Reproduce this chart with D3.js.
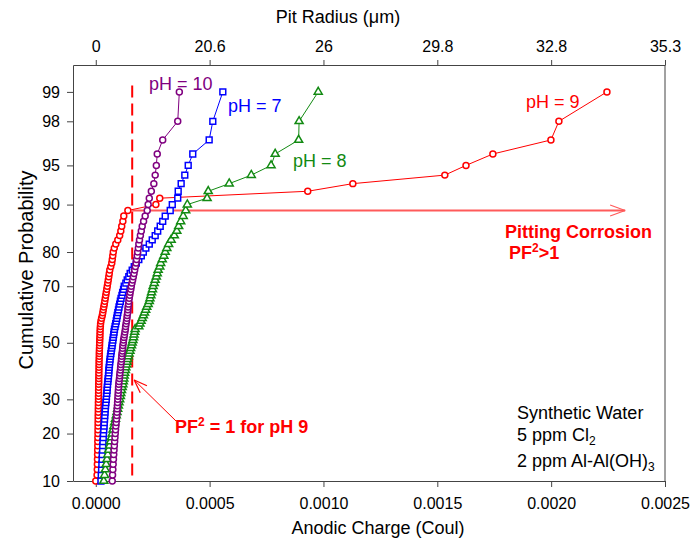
<!DOCTYPE html>
<html>
<head>
<meta charset="utf-8">
<script src="https://cdn.jsdelivr.net/npm/d3@7"></script>
<style>
  body { margin: 0; background: #fff; }
  text { font-family: Arial, "Liberation Sans", sans-serif; }
</style>
</head>
<body>
<svg id="chart" width="691" height="544"></svg>
<script>

// Cumulative probability of each ranked pit (same for every series)
const PROB = [
  0.10, 0.11, 0.12, 0.13, 0.14, 0.15, 0.16, 0.17, 0.18, 0.19,
  0.20, 0.21, 0.22, 0.23, 0.24, 0.25, 0.26, 0.27, 0.28, 0.29,
  0.30, 0.31, 0.32, 0.33, 0.34, 0.35, 0.36, 0.37, 0.38, 0.39,
  0.40, 0.41, 0.42, 0.43, 0.44, 0.45, 0.46, 0.47, 0.48, 0.49,
  0.50, 0.51, 0.52, 0.53, 0.54, 0.55, 0.56, 0.57, 0.58, 0.59,
  0.60, 0.61, 0.62, 0.63, 0.64, 0.65, 0.66, 0.67, 0.68, 0.69,
  0.70, 0.71, 0.72, 0.73, 0.74, 0.75, 0.76, 0.77, 0.78, 0.79,
  0.80, 0.81, 0.82, 0.83, 0.84, 0.85, 0.86, 0.87, 0.88, 0.89,
  0.90, 0.91, 0.92, 0.93, 0.94, 0.95, 0.96, 0.97, 0.98, 0.99
];

// Anodic charge of each pit, in micro-coulombs
const PH9 = [
  0, 5.7, 6.6, 7.0, 7.5, 7.9, 8.3, 8.8, 8.8, 9.2,
  9.7, 9.7, 10.1, 10.1, 10.5, 10.5, 11.0, 11.0, 11.4, 11.4,
  11.9, 11.9, 12.3, 12.3, 12.7, 12.7, 13.2, 13.2, 13.6, 13.6,
  14.1, 14.1, 14.5, 14.5, 14.9, 15.4, 15.4, 15.8, 16.3, 16.7,
  17.1, 17.6, 18.0, 18.5, 18.9, 19.3, 20.2, 21.1, 22.8, 25.5,
  28.6, 30.8, 33.0, 35.2, 37.4, 39.5, 41.7, 43.9, 46.1, 48.3,
  50.5, 52.7, 54.9, 57.1, 59.3, 61.5, 65.9, 70.3, 72.5, 74.7,
  76.9, 81.3, 87.9, 96.7, 105, 110, 114, 119, 123, 141,
  264, 281, 931, 1129, 1533, 1626, 1744, 1999, 2034, 2245
];

const PH7 = [
  22.8, 24.1, 25.5, 26.8, 27.7, 28.5, 29.9, 30.7, 31.6, 32.9,
  33.8, 35.1, 36.4, 37.3, 38.6, 39.5, 40.8, 41.7, 43.0, 44.4,
  46.1, 47.0, 48.3, 49.6, 50.5, 51.8, 53.1, 54.4, 55.8, 57.1,
  57.5, 58.8, 60.1, 61.5, 62.8, 64.5, 66.3, 68.0, 69.8, 71.6,
  73.3, 75.1, 76.8, 78.6, 80.3, 82.1, 84.7, 87.4, 90.0, 92.2,
  94.4, 97.0, 99.7, 102, 105, 108, 111, 115, 118, 122,
  125, 132, 138, 145, 151, 160, 169, 178, 189, 200,
  209, 220, 235, 248, 261, 272, 283, 294, 305, 327,
  336, 360, 362, 375, 391, 406, 426, 498, 514, 558
];

const PH8 = [
  35.1, 38.6, 42.1, 45.7, 49.2, 52.7, 56.6, 60.6, 64.5, 68.5,
  72.4, 75.9, 79.5, 83.0, 86.5, 90.0, 93.1, 96.1, 99.2, 102,
  105, 108, 110, 113, 116, 119, 121, 123, 125, 127,
  130, 132, 135, 137, 140, 143, 146, 150, 153, 157,
  160, 163, 166, 168, 171, 173, 189, 194, 199, 204,
  209, 214, 219, 224, 230, 235, 238, 242, 245, 249,
  252, 257, 261, 266, 270, 274, 281, 285, 292, 299,
  305, 312, 320, 331, 345, 356, 364, 373, 384, 395,
  402, 489, 494, 586, 683, 770, 788, 891, 893, 977
];

const PH10 = [
  72.4, 73.8, 75.1, 76.4, 77.7, 79.0, 80.3, 81.6, 83.0, 84.3,
  85.6, 86.9, 88.2, 89.6, 90.9, 92.2, 93.1, 93.9, 94.8, 95.7,
  96.6, 97.5, 98.3, 99.2, 100, 101, 102, 104, 105, 106,
  108, 109, 110, 112, 113, 114, 115, 117, 118, 119,
  121, 122, 124, 126, 128, 130, 131, 133, 135, 137,
  138, 140, 141, 142, 144, 145, 147, 149, 151, 154,
  156, 159, 162, 165, 168, 171, 174, 177, 179, 182,
  184, 187, 189, 192, 196, 200, 204, 210, 217, 226,
  230, 235, 244, 255, 261, 266, 270, 294, 360, 367
];

const CHARGE_TICKS = [0, 0.0005, 0.0010, 0.0015, 0.0020, 0.0025];
const RADIUS_LABELS = ["0", "20.6", "26", "29.8", "32.8", "35.3"];
const PROB_TICKS = [0.10, 0.20, 0.30, 0.50, 0.70, 0.80, 0.90, 0.95, 0.98, 0.99];
const PROB_LABELS = ["10", "20", "30", "50", "70", "80", "90", "95", "98", "99"];

// PF^2 = 1 threshold for pH 9 (Coul)
const PF2_LIMIT = 0.00016;

const UC = 1e-6;
const LEFT = 73, RIGHT = 665, TOP = 65, BOTTOM = 481;
const FONT = "Arial, 'Liberation Sans', sans-serif";

// Inverse of the standard normal CDF (Acklam)
function probit(p) {
  const a = [-3.969683028665376e+01, 2.209460984245205e+02, -2.759285104469687e+02, 1.383577518672690e+02, -3.066479806614716e+01, 2.506628277459239e+00];
  const b = [-5.447609879822406e+01, 1.615858368580409e+02, -1.556989798598866e+02, 6.680131188771972e+01, -1.328068155288572e+01];
  const c = [-7.784894002430293e-03, -3.223964580411365e-01, -2.400758277161838e+00, -2.549732539343734e+00, 4.374664141464968e+00, 2.938163982698783e+00];
  const d = [7.784695709041462e-03, 3.224671290700398e-01, 2.445134137142996e+00, 3.754408661907416e+00];
  const lo = 0.02425;
  var q, r;
  if(p < lo) {
    q = Math.sqrt(-2 * Math.log(p));
    return (((((c[0]*q+c[1])*q+c[2])*q+c[3])*q+c[4])*q+c[5]) / ((((d[0]*q+d[1])*q+d[2])*q+d[3])*q+1);
  }
  if(p > 1 - lo) {
    q = Math.sqrt(-2 * Math.log(1 - p));
    return -(((((c[0]*q+c[1])*q+c[2])*q+c[3])*q+c[4])*q+c[5]) / ((((d[0]*q+d[1])*q+d[2])*q+d[3])*q+1);
  }
  q = p - 0.5;
  r = q * q;
  return (((((a[0]*r+a[1])*r+a[2])*r+a[3])*r+a[4])*r+a[5])*q / (((((b[0]*r+b[1])*r+b[2])*r+b[3])*r+b[4])*r+1);
}

var svg = d3.select("#chart");

var x = d3.scaleLinear().domain([-0.0001, 0.0025]).range([LEFT, RIGHT]);
var z = d3.scaleLinear().domain([probit(0.10), probit(0.995)]).range([BOTTOM, TOP]);
function yOf(p) { return z(probit(p)); }

// Axes
function styleAxis(g, size) {
  g.selectAll("path, line").attr("stroke", "#444").attr("stroke-width", 1);
  g.selectAll("text").attr("font-family", FONT).attr("font-size", size).attr("fill", "#000");
}

svg.append("g")
  .attr("transform", "translate(0," + BOTTOM + ")")
  .call(d3.axisBottom(x).tickValues(CHARGE_TICKS).tickFormat(d3.format(".4f")).tickSizeInner(6).tickSizeOuter(0).tickPadding(11))
  .call(styleAxis, 16);

svg.append("g")
  .attr("transform", "translate(0," + TOP + ")")
  .call(d3.axisTop(x).tickValues(CHARGE_TICKS).tickFormat(function(d, i) { return RADIUS_LABELS[i]; }).tickSizeInner(5).tickSizeOuter(0).tickPadding(8))
  .call(styleAxis, 16);

svg.append("g")
  .attr("transform", "translate(" + LEFT + ",0)")
  .call(d3.axisLeft(z).tickValues(PROB_TICKS.map(probit)).tickFormat(function(d, i) { return PROB_LABELS[i]; }).tickSizeInner(6).tickSizeOuter(0).tickPadding(7))
  .call(styleAxis, 16);

svg.append("line")
  .attr("x1", RIGHT).attr("x2", RIGHT)
  .attr("y1", TOP).attr("y2", BOTTOM)
  .attr("stroke", "#444");

// Axis titles
svg.append("text")
  .attr("x", 338).attr("y", 23)
  .attr("text-anchor", "middle")
  .attr("font-size", 18)
  .text("Pit Radius (\u03bcm)");

svg.append("text")
  .attr("x", 378).attr("y", 534)
  .attr("text-anchor", "middle")
  .attr("font-size", 18)
  .text("Anodic Charge (Coul)");

svg.append("text")
  .attr("transform", "translate(33,270) rotate(-90)")
  .attr("text-anchor", "middle")
  .attr("font-size", 20)
  .text("Cumulative Probability");

// Threshold line and pitting arrow
svg.append("line")
  .attr("x1", x(PF2_LIMIT)).attr("x2", x(PF2_LIMIT))
  .attr("y1", yOf(0.9915)).attr("y2", BOTTOM)
  .attr("stroke", "#ff0000")
  .attr("stroke-width", 2)
  .attr("stroke-dasharray", "12,6");

function drawArrow(x1, y1, x2, y2, color, width, head) {
  var ang = Math.atan2(y2 - y1, x2 - x1);
  var g = svg.append("g").attr("stroke", color).attr("fill", "none").attr("stroke-width", width);
  g.append("line").attr("x1", x1).attr("y1", y1).attr("x2", x2).attr("y2", y2);
  [-0.35, 0.35].forEach(function(da) {
    g.append("line")
      .attr("x1", x2).attr("y1", y2)
      .attr("x2", x2 - head * Math.cos(ang + da))
      .attr("y2", y2 - head * Math.sin(ang + da))
      .attr("stroke-width", 1.2);
  });
}

drawArrow(x(PF2_LIMIT), yOf(0.89), x(0.002325), yOf(0.89), "#ff5a5a", 2, 16);

// Series
var series = [
  { name: "pH = 9", values: PH9, color: "#ff0000", marker: "circle" },
  { name: "pH = 7", values: PH7, color: "#0000ff", marker: "square" },
  { name: "pH = 8", values: PH8, color: "#128a12", marker: "triangle" },
  { name: "pH = 10", values: PH10, color: "#800080", marker: "circle" }
];

var symbols = {
  circle: d3.symbol(d3.symbolCircle, 28),
  square: d3.symbol(d3.symbolSquare, 34),
  triangle: d3.symbol(d3.symbolTriangle, 28)
};

var line = d3.line()
  .x(function(d) { return x(d.q * UC); })
  .y(function(d) { return yOf(d.p); });

series.forEach(function(s) {
  var pts = s.values.map(function(v, i) { return { q: v, p: PROB[i] }; });
  var g = svg.append("g");
  g.append("path")
    .attr("d", line(pts))
    .attr("fill", "none")
    .attr("stroke", s.color)
    .attr("stroke-width", 1);
  g.selectAll("path.pt")
    .data(pts)
    .enter().append("path")
    .attr("class", "pt")
    .attr("transform", function(d) { return "translate(" + x(d.q * UC) + "," + yOf(d.p) + ")"; })
    .attr("d", symbols[s.marker])
    .attr("fill", "#fff")
    .attr("stroke", s.color)
    .attr("stroke-width", 1.5);
});

// Series labels
var labels = [
  { text: "pH = 10", x: 149, y: 90, color: "#800080" },
  { text: "pH = 7", x: 228, y: 112, color: "#0000ff" },
  { text: "pH = 8", x: 293, y: 167, color: "#128a12" },
  { text: "pH = 9", x: 526, y: 108, color: "#ff0000" }
];

svg.selectAll("text.series")
  .data(labels)
  .enter().append("text")
  .attr("class", "series")
  .attr("x", function(d) { return d.x; })
  .attr("y", function(d) { return d.y; })
  .attr("font-size", 18)
  .attr("fill", function(d) { return d.color; })
  .text(function(d) { return d.text; });

// Red annotations
svg.append("text")
  .attr("x", 505).attr("y", 238)
  .attr("font-size", 18).attr("font-weight", "bold").attr("fill", "#ff0000")
  .text("Pitting Corrosion");

var pf = svg.append("text")
  .attr("x", 509).attr("y", 259)
  .attr("font-size", 18).attr("font-weight", "bold").attr("fill", "#ff0000");
pf.append("tspan").text("PF");
pf.append("tspan").attr("dy", -7).attr("font-size", 12).text("2");
pf.append("tspan").attr("dy", 7).text(">1");

var pf1 = svg.append("text")
  .attr("x", 175).attr("y", 433)
  .attr("font-size", 18).attr("font-weight", "bold").attr("fill", "#ff0000");
pf1.append("tspan").text("PF");
pf1.append("tspan").attr("dy", -7).attr("font-size", 12).text("2");
pf1.append("tspan").attr("dy", 7).text(" = 1 for pH 9");

drawArrow(176, 421, x(PF2_LIMIT) + 2, yOf(0.365), "#ff0000", 1, 14);

// Solution note
var note = svg.append("g").attr("font-size", 18).attr("fill", "#000");
note.append("text").attr("x", 517).attr("y", 419).text("Synthetic Water");
var cl = note.append("text").attr("x", 517).attr("y", 441);
cl.append("tspan").text("5 ppm Cl");
cl.append("tspan").attr("dy", 4).attr("font-size", 12).text("2");
var al = note.append("text").attr("x", 517).attr("y", 467);
al.append("tspan").text("2 ppm Al-Al(OH)");
al.append("tspan").attr("dy", 4).attr("font-size", 12).text("3");

</script>
</body>
</html>
